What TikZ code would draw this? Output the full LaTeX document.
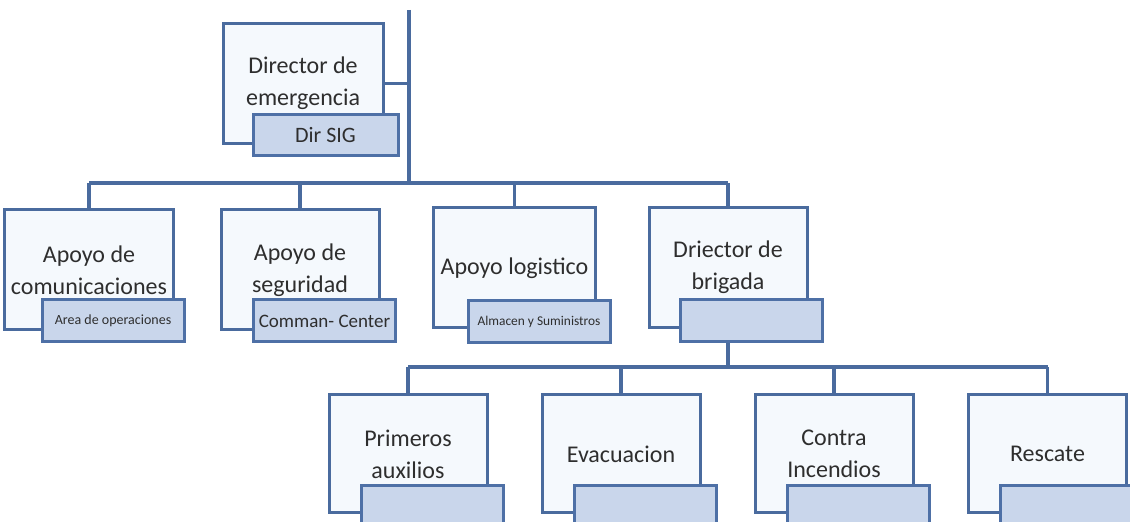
\documentclass[tikz,border=0pt]{standalone}
\usepackage{fontspec}
\setmainfont{Carlito}
\definecolor{linkblue}{HTML}{4A6B9E}
\definecolor{boxfill}{HTML}{F5F9FD}
\definecolor{subfill}{HTML}{C9D6EB}
\definecolor{subline}{HTML}{4E70A6}
\definecolor{ink}{HTML}{2E2E2E}

\begin{document}
\begin{tikzpicture}[x=0.5pt, y=-0.5pt,
    box/.style={draw=linkblue, fill=boxfill, line width=1.5pt, minimum width=79pt,
      minimum height=60pt, align=center, text=ink, font=\fontsize{12}{16}\selectfont},
    subbox/.style={draw=subline, fill=subfill, line width=1.5pt, minimum width=71pt,
      minimum height=21pt, inner sep=0pt, text=ink},
    link/.style={draw=linkblue, line width=1.6pt}]
  \useasboundingbox (0,0) rectangle (1130,522);

  \coordinate (top) at (409,10);
  \coordinate (hub) at (409,183);
  \coordinate (low) at (728,367);

  % director
  \node[box, minimum width=80pt] (emer) at (303,83.5) {Director de\\emergencia};
  \draw[link] (emer.east) -- (emer.east -| top);
  \draw[link] (top) -- (hub);

  % apoyo row
  \node[box] (com)  at (89,270)    {Apoyo de\\comunicaciones};
  \node[box] (seg)  at (300,270)   {Apoyo de\\seguridad};
  \node[box] (log)  at (514.5,268) {Apoyo logistico};
  \node[box] (brig) at (728,267.5) {Driector de\\brigada};
  \draw[link] (com.north |- hub) -- (brig.north |- hub);
  \foreach \n in {com,seg,log,brig}
    \draw[link] (\n.north) -- (\n.north |- hub);

  % brigadas row
  \node[box, minimum height=59pt] (prim)   at (408,454)    {Primeros\\auxilios};
  \node[box, minimum height=59pt] (evac)   at (621,454)    {Evacuacion};
  \node[box, minimum height=59pt] (contra) at (834,454)    {Contra\\Incendios};
  \node[box, minimum height=59pt] (resc)   at (1047.5,454) {Rescate};
  \draw[link] (prim.north |- low) -- (resc.north |- low);
  \foreach \n in {prim,evac,contra,resc}
    \draw[link] (\n.north) -- (\n.north |- low);

  % sub boxes
  \node[subbox, minimum width=72.5pt, minimum height=20.5pt, font=\fontsize{11}{13}\selectfont]
    (emersub) at (325.5,135.5) {Dir SIG};
  \node[subbox, font=\fontsize{7}{8}\selectfont] (comsub) at (113,321) {Area de operaciones};
  \node[subbox, font=\fontsize{9.5}{12}\selectfont] (segsub) at (324.5,321) {Comman- Center};
  \node[subbox, font=\fontsize{6.7}{8}\selectfont] (logsub) at (539,321.5) {Almacen y Suministros};
  \node[subbox] (brigsub) at (751.5,321) {};
  \draw[link] (brig.north |- brigsub.south) -- (low);

  \foreach \n/\x in {prim/432,evac/645,contra/858,resc/1071.5}
    \node[subbox] (\n sub) at (\x,507) {};
\end{tikzpicture}
\end{document}
